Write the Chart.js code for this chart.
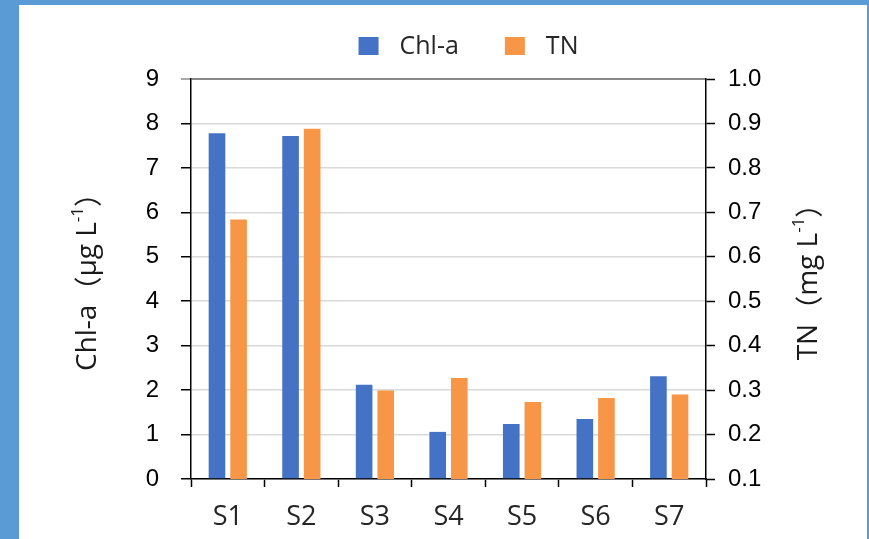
<!DOCTYPE html>
<html>
<head>
<meta charset="utf-8">
<title>Chl-a and TN by site</title>
<script src="https://cdn.jsdelivr.net/npm/chart.js@4.4.1/dist/chart.umd.min.js"></script>
<style>
  html, body { margin: 0; padding: 0; }
  body { width: 869px; height: 539px; background: #5b9bd5; position: relative; overflow: hidden; }
  #panel { position: absolute; left: 19px; top: 5px; width: 848px; height: 534px; background: #ffffff; }
  #chart { position: absolute; left: 0; top: 0; }
</style>
</head>
<body>
<div id="panel"></div>
<canvas id="chart" width="869" height="539"></canvas>
<script>
// Sampling sites
const sites = ['S1', 'S2', 'S3', 'S4', 'S5', 'S6', 'S7'];
// Chlorophyll-a, µg/L (left axis)
const chlA = [7.78, 7.72, 2.12, 1.06, 1.24, 1.35, 2.31];
// Total nitrogen, mg/L (right axis)
const tn = [0.684, 0.888, 0.299, 0.327, 0.273, 0.282, 0.290];
// Axis ranges
const leftRange = { min: 0, max: 9, step: 1 };
const rightRange = { min: 0.1, max: 1.0, step: 0.1 };

const BLUE = '#4472c4';
const ORANGE = '#f79646';
const SANS = '"Open Sans", "Liberation Sans", sans-serif';
const TICKS = '"Liberation Sans", Arial, sans-serif';
const CJK = '"Noto Sans CJK SC", "Noto Sans", sans-serif';

// Legend drawn above the plot: coloured square + series name
const legendPlugin = {
  id: 'topLegend',
  afterDraw(chart) {
    const ctx = chart.ctx;
    const box = 20, boxH = 18, gapText = 21, gapItem = 46, cy = 46;
    ctx.save();
    ctx.font = '25px ' + SANS;
    ctx.textBaseline = 'middle';
    ctx.textAlign = 'left';
    const items = chart.data.datasets.map(d => ({ label: d.label, color: d.backgroundColor, w: ctx.measureText(d.label).width }));
    let total = 0;
    items.forEach((it, i) => { total += box + gapText + it.w + (i < items.length - 1 ? gapItem : 0); });
    let x = (chart.chartArea.left + chart.chartArea.right) / 2 + 20 - total / 2;
    items.forEach(it => {
      ctx.fillStyle = it.color;
      ctx.fillRect(x, cy - boxH / 2, box, boxH);
      x += box + gapText;
      ctx.fillStyle = '#262626';
      ctx.fillText(it.label, x, cy + 1);
      x += it.w + gapItem;
    });
    ctx.restore();
  }
};

// Rotated axis titles with a superscript "-1" in the unit
function drawTitle(ctx, cx, cy, parts) {
  ctx.save();
  ctx.translate(cx, cy);
  ctx.rotate(-Math.PI / 2);
  ctx.textBaseline = 'middle';
  ctx.textAlign = 'left';
  let total = 0;
  parts.forEach(p => { ctx.font = p.font; p.w = ctx.measureText(p.text).width; total += p.w; });
  let x = -total / 2;
  parts.forEach(p => {
    ctx.font = p.font;
    ctx.fillStyle = '#1a1a1a';
    ctx.fillText(p.text, x, p.dy || 0);
    x += p.w;
  });
  ctx.restore();
}
function titleParts(name, unit) {
  return [
    { text: name, font: '28px ' + SANS },
    { text: '（', font: '28px ' + CJK },
    { text: unit + ' L', font: '28px ' + SANS },
    { text: '-1', font: '17px ' + SANS, dy: -10 },
    { text: '）', font: '28px ' + CJK }
  ];
}
const titlePlugin = {
  id: 'axisTitles',
  afterDraw(chart) {
    const a = chart.chartArea;
    const cy = (a.top + a.bottom) / 2 - 4;
    drawTitle(chart.ctx, a.left - 103, cy, titleParts('Chl-a', 'μg'));
    drawTitle(chart.ctx, a.right + 103, cy, titleParts('TN', 'mg'));
  }
};

new Chart(document.getElementById('chart'), {
  type: 'bar',
  data: {
    labels: sites,
    datasets: [
      { label: 'Chl-a', data: chlA, backgroundColor: BLUE, yAxisID: 'yL',
        categoryPercentage: 0.587, barPercentage: 0.77 },
      { label: 'TN', data: tn, backgroundColor: ORANGE, yAxisID: 'yR',
        categoryPercentage: 0.587, barPercentage: 0.77 }
    ]
  },
  options: {
    responsive: false,
    devicePixelRatio: 1,
    animation: false,
    layout: { padding: { left: 0, right: 0, top: 79, bottom: 0 } },
    plugins: {
      legend: { display: false },
      tooltip: { enabled: false }
    },
    scales: {
      x: {
        offset: true,
        grid: { display: true, offset: true, drawOnChartArea: false, tickLength: 8, tickColor: '#000', tickWidth: 1.5 },
        border: { display: true, color: '#000', width: 1.5 },
        ticks: { font: { family: SANS, size: 27 }, color: '#262626', padding: 14, maxRotation: 0 },
        afterFit(s) { s.height = 60; }
      },
      yL: {
        position: 'left',
        min: leftRange.min, max: leftRange.max,
        ticks: { stepSize: leftRange.step, font: { family: TICKS, size: 24 }, color: '#000', padding: 22 },
        grid: {
          color: c => c.tick && c.tick.value === leftRange.max ? '#8a8a8a' : '#d9d9d9',
          lineWidth: c => c.tick && c.tick.value === leftRange.max ? 2 : 1.5,
          tickColor: c => c.tick && c.tick.value === leftRange.max ? '#8a8a8a' : '#000',
          tickLength: 10, tickWidth: 1.5
        },
        border: { display: true, color: '#000', width: 1.5 },
        afterFit(s) { s.width = 191; }
      },
      yR: {
        position: 'right',
        min: rightRange.min, max: rightRange.max,
        ticks: { stepSize: rightRange.step, font: { family: TICKS, size: 24 }, color: '#000', padding: 13,
          callback: v => Number(v).toFixed(1) },
        grid: { drawOnChartArea: false, tickLength: 9, tickColor: '#000', tickWidth: 1.5 },
        border: { display: true, color: '#000', width: 1.5 },
        afterFit(s) { s.width = 163; }
      }
    }
  },
  plugins: [legendPlugin, titlePlugin]
});
</script>
</body>
</html>
